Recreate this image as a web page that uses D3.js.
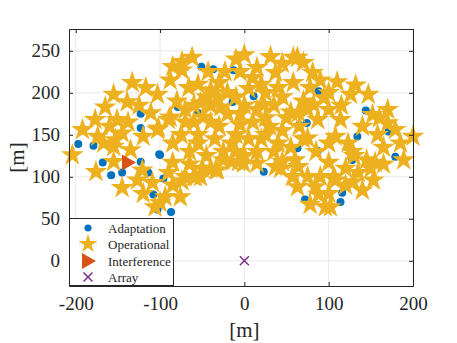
<!DOCTYPE html>
<html>
<head>
<meta charset="utf-8">
<script src="https://cdn.jsdelivr.net/npm/d3@7"></script>
<style>
    body { margin: 0; background: #fff; }
    text { font-family: "Liberation Serif", "DejaVu Serif", serif; fill: #262626; }
</style>
</head>
<body>
<script>
"use strict";
(function(){
    // adaptation points [x, y] in metres
    const adaptX = [-197, -179, -123, -123, -101, -158, -51, -79, -55, -37, -14, 11, 88, 144, 134, 171, 179, 74, 65, 63, 87, 128, 23,
        -108, -96, -87, -103, 72, 114, 116, -145, -123, -114, -100, -168, -13]
    const adaptY = [139, 137, 158, 175, 127, 102, 231, 183, 176, 228, 189, 196, 202, 179, 148, 154, 124, 164, 162, 134, 131, 120, 106,
        79, 98, 58, 61, 73, 70, 81, 105, 118, 105, 126, 117, 227]

    // operational points
    const operX = [0, -62, 31, 58, -23, -43, 15, 37, -74, -66, -28, 23, 55, -5, -49, -70, 40, 58, -40, -85, -88, -133, -117, -103,
        -155, -139, -165, -177, -192, -111, -90, -138, -102, 63, 70, 81, 110, 132, 78, 126, 147, 94, 82, 64, 87, 114, 152, 170, 170,
        179, 200, -204, -167, -153, -145, -176, -135, -145, -127, -109, -106, -94, -85, -121, -100, -76, -52, -32, -1, 43, 63, 78, 102,
        88, 140, 153, 106, 129, 128, 158, 189, 155, 108, 84, 96, 123, 108, 75, 100, 64, -74, -58, -34, -7, 15, 37, 57,
        -74, -52, -32, -151, -174, -155, -88, -120, -103,
        -80, -60, -45, -20, 5, 20, 45, 70, -75, -55, -35, -15, 5, 25, 45, 65, -65, -45, -25, -10, 15, 35, 55, -85, -50, -20, 0, 25,
        40, -30, 10, -90, -70, 85, 100, 115, 140, 145, 165, 120, 90, 130, -5, -155,
        -10, 45, -55, -30, 10, 25, -10, 90, 100, 75, -70, -40, -60, -40, -5, 15, 35, 50, 70, 60, 45, -65, -40, -15, -55, -25, 0, 20,
        -10, 30, -125, -160, -120, -85, -60, 100, 150, 165, 135, 120, 75, 100, 160, 185]
    const operY = [245, 242, 243, 242, 225, 225, 230, 224, 227, 206, 183, 186, 177, 162, 171, 165, 206, 212, 203, 231, 215, 212, 206,
        198, 198, 189, 183, 168, 156, 176, 168, 165, 158, 242, 236, 224, 213, 209, 206, 198, 198, 194, 186, 176, 168, 168, 174, 180,
        164, 156, 148, 126, 140, 144, 152, 106, 132, 87, 96, 93, 64, 76, 117, 108, 69, 76, 100, 108, 116, 110, 88, 67, 64,
        79, 84, 96, 100, 94, 130, 150, 120, 117, 96, 88, 64, 140, 148, 146, 117, 112, 95, 100, 108, 118, 116, 112, 100,
        237, 188, 195, 168, 148, 136, 171, 148, 156,
        190, 185, 195, 200, 205, 210, 195, 190, 150, 150, 145, 140, 145, 150, 155, 160, 130, 125, 120, 130, 130, 130, 135, 140, 110,
        175, 185, 170, 140, 160, 165, 105, 100, 130, 180, 185, 160, 120, 135, 110, 100, 125, 225, 118,
        240, 235, 210, 212, 218, 200, 195, 215, 200, 180, 180, 185, 165, 165, 175, 180, 185, 170, 145, 120, 118, 115, 110, 118, 140,
        130, 125, 145, 150, 160, 185, 160, 80, 90, 100, 140, 110, 115, 105, 90, 100, 80, 170, 140]

    // interference and array positions
    const interfX = [-138]
    const interfY = [117]
    const arrayX = [0]
    const arrayY = [0]

    const xTicks = [-200, -100, 0, 100, 200]
    const yTicks = [0, 50, 100, 150, 200, 250]
    const legendNames = ["Adaptation", "Operational", "Interference", "Array"]

    const colors = {
        adapt: "#0072BD",
        oper: "#EDB120",
        interf: "#D95319",
        array: "#7E2F8E"
    }

    const measurements = { width: 457, height: 343, left: 69, right: 413, top: 29, bottom: 286 }
    const serif = "'Liberation Serif', 'Times New Roman', serif"

    const svg = d3.select("body").append("svg")
        .attr("width", measurements.width)
        .attr("height", measurements.height)

    const scaleX = d3.scaleLinear().domain([-208, 200]).range([measurements.left, measurements.right])
    const scaleY = d3.scaleLinear().domain([-30, 276]).range([measurements.bottom, measurements.top])

    // grid
    const grid = svg.append("g")
    grid.selectAll(".gx").data(xTicks).enter().append("line")
        .attr("x1", d => scaleX(d)).attr("x2", d => scaleX(d))
        .attr("y1", measurements.top).attr("y2", measurements.bottom)
        .attr("stroke", "#e9e9e9").attr("stroke-width", 1)
    grid.selectAll(".gy").data(yTicks).enter().append("line")
        .attr("y1", d => scaleY(d)).attr("y2", d => scaleY(d))
        .attr("x1", measurements.left).attr("x2", measurements.right)
        .attr("stroke", "#e9e9e9").attr("stroke-width", 1)

    // star path (pentagram)
    function starPath(r) {
        const inner = r * 0.382
        let p = ""
        for (let i = 0; i < 10; i++) {
            const rad = i % 2 === 0 ? r : inner
            const a = -Math.PI / 2 + i * Math.PI / 5
            p += (i === 0 ? "M" : "L") + (rad * Math.cos(a)).toFixed(2) + "," + (rad * Math.sin(a)).toFixed(2)
        }
        return p + "Z"
    }
    const trianglePath = "M-6,-8L8,0L-6,8Z"
    const crossPath = "M-4.5,-4.5L4.5,4.5M-4.5,4.5L4.5,-4.5"

    // adaptation dots
    svg.append("g").selectAll("circle")
        .data(adaptX.map((x, i) => [x, adaptY[i]]))
        .enter().append("circle")
        .attr("cx", d => scaleX(d[0]))
        .attr("cy", d => scaleY(d[1]))
        .attr("r", 4)
        .attr("fill", colors.adapt)

    // operational stars
    svg.append("g").selectAll("path")
        .data(operX.map((x, i) => [x, operY[i]]))
        .enter().append("path")
        .attr("d", starPath(12))
        .attr("transform", d => "translate(" + scaleX(d[0]) + "," + scaleY(d[1]) + ")")
        .attr("fill", colors.oper)

    // interference
    svg.append("g").selectAll("path")
        .data(interfX.map((x, i) => [x, interfY[i]]))
        .enter().append("path")
        .attr("d", trianglePath)
        .attr("transform", d => "translate(" + scaleX(d[0]) + "," + scaleY(d[1]) + ")")
        .attr("fill", colors.interf)

    // array
    svg.append("g").selectAll("path")
        .data(arrayX.map((x, i) => [x, arrayY[i]]))
        .enter().append("path")
        .attr("d", crossPath)
        .attr("transform", d => "translate(" + scaleX(d[0]) + "," + scaleY(d[1]) + ")")
        .attr("stroke", colors.array).attr("stroke-width", 1.5).attr("fill", "none")

    // axes (box with inward ticks on all sides)
    const axisColor = "#262626"
    function styleAxis(g) {
        g.attr("font-family", serif).attr("font-size", 19)
        g.select(".domain").attr("stroke", axisColor)
        g.selectAll(".tick line").attr("stroke", axisColor)
        g.selectAll(".tick text").attr("fill", axisColor)
            .style("font-family", serif).style("font-size", "19px")
    }
    svg.append("g")
        .attr("transform", "translate(0," + measurements.bottom + ")")
        .call(d3.axisBottom(scaleX).tickValues(xTicks).tickSizeInner(-4).tickSizeOuter(0).tickPadding(11))
        .call(styleAxis)
    svg.append("g")
        .attr("transform", "translate(" + measurements.left + ",0)")
        .call(d3.axisLeft(scaleY).tickValues(yTicks).tickSizeInner(-4).tickSizeOuter(0).tickPadding(9))
        .call(styleAxis)
    svg.append("g")
        .attr("transform", "translate(0," + measurements.top + ")")
        .call(d3.axisTop(scaleX).tickValues(xTicks).tickSizeInner(-4).tickSizeOuter(0).tickFormat(""))
        .call(styleAxis)
    svg.append("g")
        .attr("transform", "translate(" + measurements.right + ",0)")
        .call(d3.axisRight(scaleY).tickValues(yTicks).tickSizeInner(-4).tickSizeOuter(0).tickFormat(""))
        .call(styleAxis)
    svg.selectAll(".tick text").text(function() { return d3.select(this).text().replace("−", "-") })

    // axis labels
    svg.append("text")
        .attr("x", scaleX(0)).attr("y", 337)
        .attr("text-anchor", "middle")
        .style("font-size", "21px")
        .text("[m]")
    svg.append("text")
        .attr("transform", "translate(24," + ((measurements.top + measurements.bottom) / 2) + ")rotate(-90)")
        .attr("text-anchor", "middle")
        .style("font-size", "21px")
        .text("[m]")

    // legend
    const legend = svg.append("g")
    legend.append("rect")
        .attr("x", 69.5).attr("y", 218.5).attr("width", 104).attr("height", 67)
        .attr("fill", "#fff").attr("stroke", axisColor).attr("stroke-width", 1)
    const rowY = [228, 244, 261, 277]
    legendNames.forEach((name, i) => {
        const g = legend.append("g").attr("transform", "translate(88," + rowY[i] + ")")
        if (i === 0) g.append("circle").attr("r", 3.5).attr("fill", colors.adapt)
        if (i === 1) g.append("path").attr("d", starPath(10)).attr("fill", colors.oper)
        if (i === 2) g.append("path").attr("d", trianglePath).attr("fill", colors.interf)
        if (i === 3) g.append("path").attr("d", crossPath).attr("stroke", colors.array).attr("stroke-width", 1.5)
        legend.append("text")
            .attr("x", 108).attr("y", rowY[i] + 4.5)
            .style("font-size", "13px")
            .text(name)
    })
})()
</script>
</body>
</html>
